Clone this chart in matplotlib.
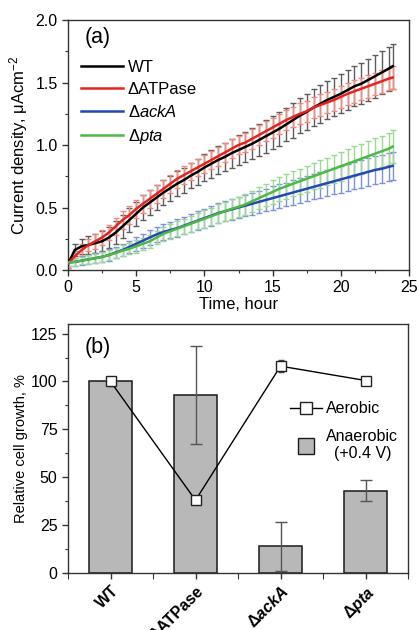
import numpy as np
import matplotlib
matplotlib.use("Agg")
import matplotlib.pyplot as plt
from matplotlib.lines import Line2D
from matplotlib.ticker import MultipleLocator

plt.rcParams['font.family'] = ['Liberation Sans', 'DejaVu Sans']
plt.rcParams['mathtext.fontset'] = 'custom'
plt.rcParams['mathtext.rm'] = 'Liberation Sans'
plt.rcParams['mathtext.it'] = 'Liberation Sans:italic'
plt.rcParams['mathtext.bf'] = 'Liberation Sans:bold'
plt.rcParams['mathtext.bfit'] = 'Liberation Sans:italic:bold'

# ---------------- panel (a) data ----------------
time_h = np.append(np.arange(0, 24, 0.5), 23.8)

wt = [0.05, 0.16, 0.19, 0.20, 0.215, 0.23, 0.26, 0.30, 0.35, 0.40,
      0.45, 0.50, 0.54, 0.58, 0.62, 0.655, 0.69, 0.72, 0.755, 0.785,
      0.82, 0.85, 0.88, 0.905, 0.935, 0.96, 0.985, 1.01, 1.04, 1.07,
      1.10, 1.13, 1.165, 1.20, 1.235, 1.265, 1.30, 1.33, 1.36, 1.385,
      1.41, 1.44, 1.47, 1.49, 1.52, 1.55, 1.58, 1.61, 1.63]
wt_err = [0.03, 0.05, 0.06, 0.07, 0.075, 0.08, 0.085, 0.09, 0.09, 0.095,
          0.095, 0.10, 0.10, 0.10, 0.10, 0.10, 0.10, 0.10, 0.10, 0.105,
          0.105, 0.11, 0.11, 0.115, 0.115, 0.12, 0.12, 0.125, 0.125, 0.13,
          0.13, 0.135, 0.135, 0.14, 0.14, 0.145, 0.145, 0.15, 0.15, 0.155,
          0.155, 0.16, 0.16, 0.165, 0.165, 0.17, 0.175, 0.175, 0.18]

atpase = [0.05, 0.11, 0.16, 0.20, 0.23, 0.26, 0.30, 0.35, 0.40, 0.44,
          0.49, 0.53, 0.57, 0.61, 0.65, 0.69, 0.73, 0.76, 0.79, 0.82,
          0.85, 0.88, 0.91, 0.94, 0.97, 1.00, 1.02, 1.05, 1.08, 1.11,
          1.14, 1.17, 1.20, 1.225, 1.25, 1.27, 1.30, 1.32, 1.34, 1.36,
          1.385, 1.41, 1.43, 1.45, 1.47, 1.49, 1.51, 1.53, 1.54]
atpase_err = [0.03, 0.04, 0.05, 0.05, 0.06, 0.06, 0.06, 0.07, 0.07, 0.07,
              0.07, 0.07, 0.07, 0.07, 0.07, 0.07, 0.07, 0.07, 0.07, 0.07,
              0.07, 0.075, 0.075, 0.075, 0.075, 0.075, 0.075, 0.08, 0.08, 0.08,
              0.08, 0.08, 0.08, 0.08, 0.085, 0.085, 0.085, 0.085, 0.085, 0.085,
              0.09, 0.09, 0.09, 0.09, 0.09, 0.09, 0.09, 0.09, 0.09]

acka = [0.06, 0.065, 0.075, 0.085, 0.095, 0.105, 0.12, 0.14, 0.16, 0.185,
        0.21, 0.235, 0.26, 0.285, 0.305, 0.32, 0.335, 0.355, 0.375, 0.395,
        0.415, 0.435, 0.455, 0.47, 0.485, 0.50, 0.515, 0.53, 0.545, 0.56,
        0.575, 0.59, 0.605, 0.62, 0.635, 0.65, 0.665, 0.68, 0.695, 0.71,
        0.725, 0.74, 0.755, 0.77, 0.785, 0.80, 0.81, 0.825, 0.833]
acka_err = [0.03, 0.03, 0.035, 0.035, 0.04, 0.04, 0.045, 0.045, 0.05, 0.05,
            0.055, 0.055, 0.06, 0.06, 0.065, 0.065, 0.07, 0.07, 0.07, 0.075,
            0.075, 0.08, 0.08, 0.08, 0.085, 0.085, 0.085, 0.09, 0.09, 0.09,
            0.095, 0.095, 0.095, 0.10, 0.10, 0.10, 0.10, 0.105, 0.105, 0.105,
            0.105, 0.11, 0.11, 0.11, 0.11, 0.11, 0.11, 0.11, 0.11]

pta = [0.06, 0.065, 0.075, 0.085, 0.095, 0.105, 0.12, 0.135, 0.155, 0.17,
       0.19, 0.21, 0.23, 0.26, 0.29, 0.31, 0.33, 0.35, 0.37, 0.39,
       0.41, 0.43, 0.45, 0.47, 0.49, 0.505, 0.525, 0.55, 0.575, 0.60,
       0.625, 0.65, 0.67, 0.69, 0.71, 0.73, 0.75, 0.77, 0.79, 0.81,
       0.83, 0.85, 0.87, 0.89, 0.91, 0.93, 0.95, 0.97, 0.987]
pta_err = [0.03, 0.03, 0.03, 0.035, 0.035, 0.04, 0.04, 0.04, 0.045, 0.045,
           0.05, 0.05, 0.05, 0.055, 0.055, 0.06, 0.06, 0.06, 0.065, 0.065,
           0.07, 0.07, 0.075, 0.075, 0.08, 0.08, 0.085, 0.085, 0.09, 0.09,
           0.095, 0.095, 0.10, 0.10, 0.10, 0.105, 0.105, 0.11, 0.11, 0.11,
           0.115, 0.115, 0.12, 0.12, 0.12, 0.125, 0.125, 0.13, 0.13]

series_labels = ['WT', 'ΔATPase', r'Δ$\mathit{ackA}$', r'Δ$\mathit{pta}$']
line_colors = ['#000000', '#e8221d', '#2348b4', '#4db843']
err_colors = ['#5c5c5c', '#f2897f', '#7d90d8', '#9bd992']

# ---------------- panel (b) data ----------------
strains = ['WT', 'ΔATPase', r'$\mathbf{\Delta}\mathbfit{ackA}$', r'$\mathbf{\Delta}\mathbfit{pta}$']
anaerobic = [100, 93, 14, 43]
anaerobic_err = [0, 25.5, 12.8, 5.5]
aerobic = [100, 38, 108, 100.5]
aerobic_err = [2.5, 2, 3, 2]

# ---------------- figure ----------------
fig = plt.figure(figsize=(4.17, 6.30), dpi=100)
axa = fig.add_axes([68/417, 1-270/630, 341/417, 250/630])
axb = fig.add_axes([68/417, 1-573/630, 340/417, 249/630])

spine_col = '#333333'
for ax in (axa, axb):
    for s in ax.spines.values():
        s.set_color(spine_col)
        s.set_linewidth(1.0)
    ax.tick_params(which='both', direction='out', top=False, right=False,
                   colors='#333333', labelcolor='black')
    ax.tick_params(which='major', length=4, width=1.0, labelsize=11.5)
    ax.tick_params(which='minor', length=2.5, width=0.8)

series = [(wt, wt_err), (atpase, atpase_err), (acka, acka_err), (pta, pta_err)]
for (vals, errs), ec in zip(series, err_colors):
    axa.errorbar(time_h, vals, yerr=errs, fmt='none', ecolor=ec,
                 elinewidth=1.0, capsize=2.2, capthick=1.0, zorder=1)
handles = []
for (vals, errs), lc, lab in zip(series, line_colors, series_labels):
    h, = axa.plot(time_h, vals, color=lc, lw=1.8, zorder=3, label=lab)
    handles.append(h)

axa.set_xlim(0, 25)
axa.set_ylim(0, 2.0)
axa.xaxis.set_major_locator(MultipleLocator(5))
axa.xaxis.set_minor_locator(MultipleLocator(2.5))
axa.yaxis.set_major_locator(MultipleLocator(0.5))
axa.yaxis.set_minor_locator(MultipleLocator(0.25))
axa.yaxis.set_major_formatter(matplotlib.ticker.FormatStrFormatter('%.1f'))
axa.set_xlabel('Time, hour', fontsize=12, labelpad=1)
axa.set_ylabel(r'Current density, μAcm$^{-2}$', fontsize=12)
axa.yaxis.set_label_coords(-0.11, 0.5)
axa.text(0.05, 0.93, '(a)', transform=axa.transAxes, fontsize=15.5,
         ha='left', va='center')
leg = axa.legend(handles=handles, loc='upper left', bbox_to_anchor=(0.038, 0.84),
                 frameon=False, fontsize=12, handlelength=2.5, handletextpad=0.3,
                 labelspacing=0.42, borderaxespad=0, borderpad=0)

# panel (b)
x = np.arange(len(strains))
axb.bar(x, anaerobic, width=0.5, color='#b8b8b8', edgecolor='#1a1a1a',
        linewidth=1.1, zorder=1)
axb.errorbar(x, anaerobic, yerr=anaerobic_err, fmt='none', ecolor='#555555',
             elinewidth=1.0, capsize=4, capthick=1.0, zorder=2)
axb.errorbar(x, aerobic, yerr=aerobic_err, fmt='-s', color='black', lw=1.0,
             ms=7, mfc='white', mec='#222222', mew=1.0, ecolor='#444444',
             elinewidth=0.8, capsize=2.5, zorder=3)
axb.set_xlim(-0.5, 3.5)
axb.set_ylim(0, 130)
axb.yaxis.set_major_locator(MultipleLocator(25))
axb.yaxis.set_minor_locator(MultipleLocator(12.5))
axb.set_xticks(x)
axb.set_xticks([-0.5, 0.5, 1.5, 2.5, 3.5], minor=True)
axb.tick_params(axis='x', which='minor', length=4)
axb.set_xticklabels(strains, rotation=45, ha='right', rotation_mode='anchor',
                    fontweight='bold', fontsize=11.5)
axb.tick_params(axis='y', labelsize=11.5)
axb.set_ylabel('Relative cell growth, %', fontsize=10.5)
axb.yaxis.set_label_coords(-0.118, 0.5)
axb.text(0.05, 0.905, '(b)', transform=axb.transAxes, fontsize=15.5,
         ha='left', va='center')

h_aer = Line2D([], [], color='black', lw=1.0, marker='s', ms=9,
               mfc='white', mec='#222222', mew=1.0)
h_ana = Line2D([], [], ls='none', marker='s', ms=12, mfc='#b8b8b8',
               mec='#1a1a1a', mew=1.0)
legb = axb.legend([h_aer, h_ana], ['Aerobic', 'Anaerobic\n(+0.4 V)'],
                  loc='upper left', bbox_to_anchor=(0.652, 0.69), frameon=False,
                  fontsize=11.5, handlelength=2.0, handletextpad=0.3,
                  labelspacing=0.8, borderaxespad=0, borderpad=0)
for t in legb.get_texts():
    t.set_multialignment('center')

fig.savefig('out.png', dpi=100)
